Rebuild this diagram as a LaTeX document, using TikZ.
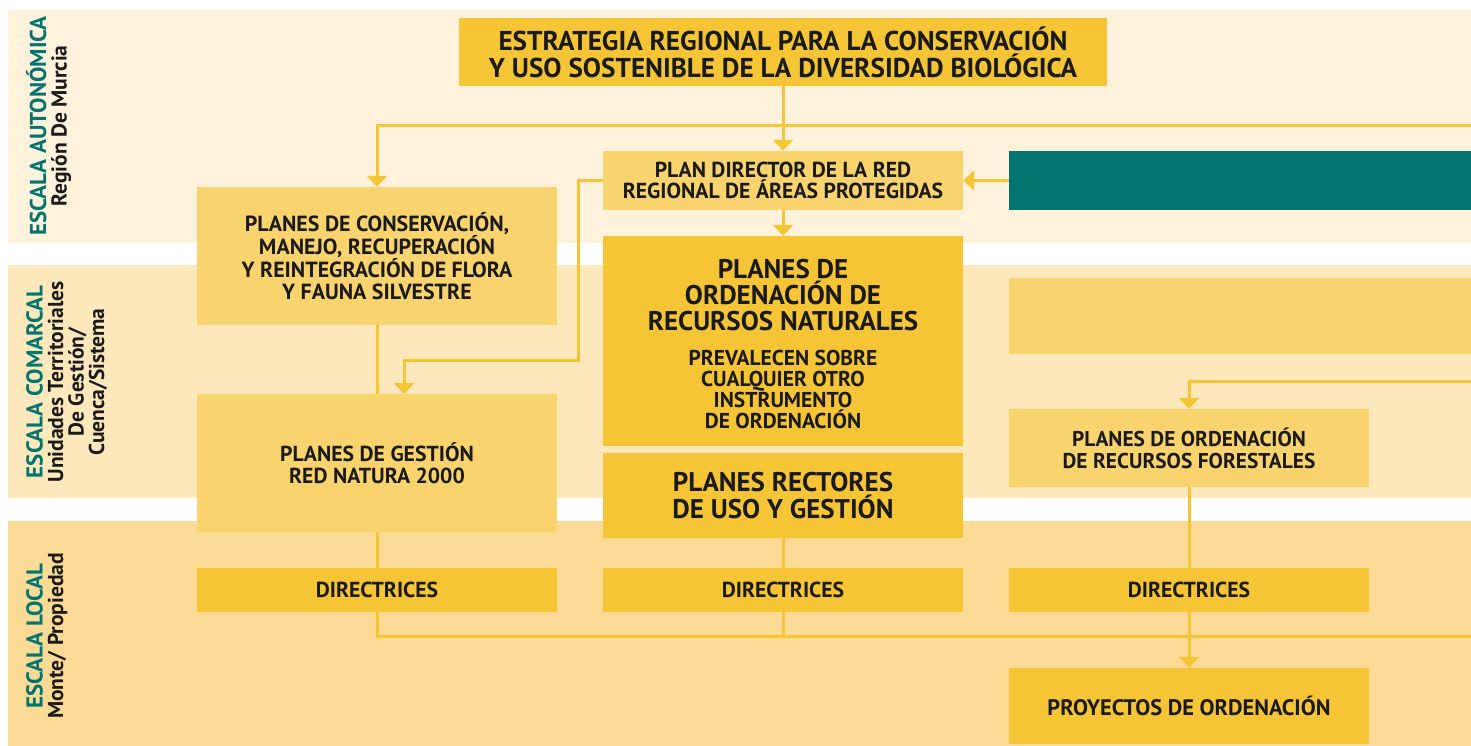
\documentclass[tikz,border=0pt]{standalone}
\usepackage{fontspec}
\setmainfont{PT Sans}
\usetikzlibrary{arrows.meta}
\definecolor{bandA}{HTML}{FEF2DC}
\definecolor{bandB}{HTML}{FDE8BB}
\definecolor{bandC}{HTML}{FADA95}
\definecolor{lightbox}{HTML}{F9D36E}
\definecolor{darkbox}{HTML}{F5C535}
\definecolor{tealc}{HTML}{03756E}
\definecolor{txt}{HTML}{1A1A1A}
\tikzset{
  boxbase/.style={inner sep=0pt, align=center, text=txt, font=\bfseries\fontsize{21.7}{22}\selectfont},
  lbox/.style={boxbase, fill=lightbox},
  dbox/.style={boxbase, fill=darkbox},
  txtonly/.style={inner sep=0pt, align=center, text=txt},
  conn/.style={draw=darkbox, line width=3pt},
  arr/.style={conn, -{Triangle[width=20pt,length=11pt]}},
  sidelbl/.style={rotate=90, anchor=north, align=center, inner sep=0pt, text=txt, font=\bfseries\fontsize{21.5}{20.5}\selectfont},
}
\newcommand{\escala}[1]{\textcolor{tealc}{\fontsize{23}{20.5}\selectfont #1}}
\begin{document}
\begin{tikzpicture}[x=1pt,y=-1pt]
\useasboundingbox (0,0) rectangle (1471,746);
\fill[white] (0,0) rectangle (1471,746);
% bands
\fill[bandA] (8,10) rectangle (1471,243);
\fill[bandB] (8,265) rectangle (1471,498);
\fill[bandC] (8,521) rectangle (1471,746);
% side labels
\node[sidelbl] (lblA) at (26,126) {\escala{ESCALA AUTONÓMICA}\\Región De Murcia};
\node[sidelbl] (lblB) at (26,382) {\escala{ESCALA COMARCAL}\\Unidades Territoriales\\De Gestión/\\Cuenca/Sistema};
\node[sidelbl] (lblC) at (26,636) {\escala{ESCALA LOCAL}\\Monte/ Propiedad};
% boxes
\node[dbox, minimum width=648pt, minimum height=68pt, font=\bfseries\fontsize{27.2}{27}\selectfont] (estr) at (783,52)
  {ESTRATEGIA REGIONAL PARA LA CONSERVACIÓN\\Y USO SOSTENIBLE DE LA DIVERSIDAD BIOLÓGICA};
\node[lbox, minimum width=360pt, minimum height=59pt, font=\bfseries\fontsize{21.7}{21}\selectfont] (pdir) at (783,180.5)
  {PLAN DIRECTOR DE LA RED\\REGIONAL DE ÁREAS PROTEGIDAS};
\node[fill=tealc, inner sep=0pt, minimum width=462pt, minimum height=59pt] (teal) at (1240,180.5) {};
\node[lbox, minimum width=360pt, minimum height=138pt, font=\bfseries\fontsize{21.9}{22}\selectfont] (cons) at (377,256)
  {PLANES DE CONSERVACIÓN,\\MANEJO, RECUPERACIÓN\\Y REINTEGRACIÓN DE FLORA\\Y FAUNA SILVESTRE};
\node[dbox, minimum width=360pt, minimum height=210pt] (porn) at (783,341) {};
\node[txtonly, font=\bfseries\fontsize{27}{26}\selectfont] (porntitle) at (783,295)
  {PLANES DE\\ORDENACIÓN DE\\RECURSOS NATURALES};
\node[txtonly, font=\bfseries\fontsize{21.5}{21}\selectfont] (pornsub) at (783,389)
  {PREVALECEN SOBRE\\CUALQUIER OTRO\\INSTRUMENTO\\DE ORDENACIÓN};
\node[dbox, minimum width=360pt, minimum height=85pt, font=\bfseries\fontsize{27}{27}\selectfont] (prug) at (783,495.5)
  {PLANES RECTORES\\DE USO Y GESTIÓN};
\node[lbox, minimum width=360pt, minimum height=138pt] (gest) at (377,463)
  {PLANES DE GESTIÓN\\RED NATURA 2000};
\node[lbox, minimum width=462pt, minimum height=76pt] (rlight) at (1240,316) {};
\node[lbox, minimum width=360pt, minimum height=78pt, font=\bfseries\fontsize{21.4}{22}\selectfont] (porf) at (1189,448)
  {PLANES DE ORDENACIÓN\\DE RECURSOS FORESTALES};
\node[dbox, minimum width=360pt, minimum height=44pt] (dir1) at (377,590) {DIRECTRICES};
\node[dbox, minimum width=360pt, minimum height=44pt] (dir2) at (783,590) {DIRECTRICES};
\node[dbox, minimum width=360pt, minimum height=44pt] (dir3) at (1189,590) {DIRECTRICES};
\node[dbox, minimum width=360pt, minimum height=76pt, font=\bfseries\fontsize{22.4}{22}\selectfont] (proy) at (1189,706) {PROYECTOS DE ORDENACIÓN};
% coordinates
\coordinate (eA) at (1471,126);
\coordinate (eB) at (1471,381);
\coordinate (eC) at (1471,636);
\coordinate (k1) at (578,360);
\coordinate (gtop) at (404,394);
% connectors
\draw[arr] (estr.south) -- (pdir.north);
\draw[arr] (eA) -| (cons.north);
\draw[arr] (pdir.south) -- (porn.north);
\draw[arr] (teal.west) -- (pdir.east);
\draw[arr] (pdir.west) -| (k1) -| (gtop);
\draw[conn] (cons.south) -- (gest.north);
\draw[conn] (gest.south) -- (dir1.north);
\draw[conn] (prug.south) -- (dir2.north);
\draw[conn] (dir1.south) |- (eC);
\draw[conn] (dir2.south) -- (dir2.south |- eC);
\draw[arr] (eB) -| (porf.north);
\draw[conn] (porf.south) -- (dir3.north);
\draw[arr] (dir3.south) -- (proy.north);
\end{tikzpicture}
\end{document}
